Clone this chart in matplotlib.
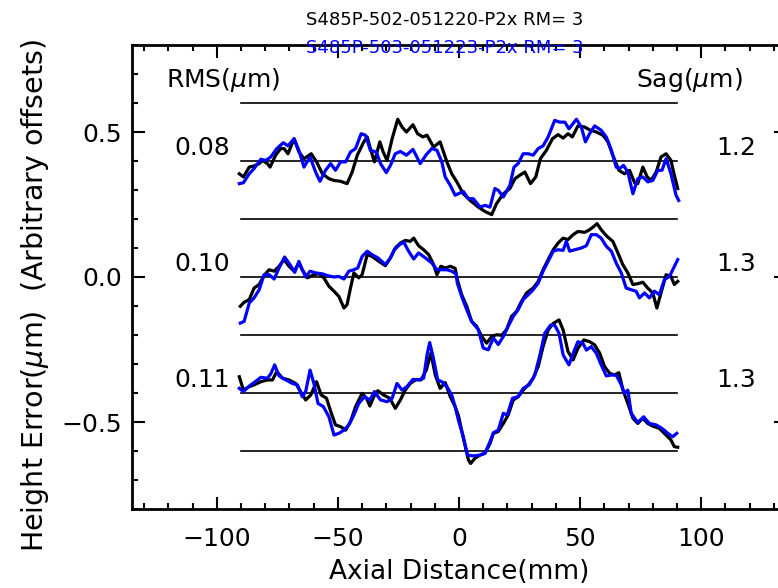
import numpy as np
import matplotlib
matplotlib.use("Agg")
import matplotlib.pyplot as plt
from matplotlib.ticker import MultipleLocator, FuncFormatter

# --- data (x in mm, y relative to each group's offset, um) ---
offsets = [0.4, 0.0, -0.4]
rms_labels = ["0.08", "0.10", "0.11"]
sag_labels = ["1.2", "1.3", "1.3"]
title_1 = "S485P-502-051220-P2x RM= 3"
title_2 = "S485P-503-051223-P2x RM= 3"

top_k_x = [-90.7, -89, -86.6, -84.6, -82.5, -81.1, -79.1, -78, -75.7, -73.6, -72.2, -70.6, -68.1, -66.1,
           -64, -61, -58.8, -56.4, -53.7, -51.6, -48.9, -46.2, -44.1, -42.0, -39.3, -37.9, -36.6, -34.9,
           -32.7, -31.3, -29.7, -27.6, -25.3, -23.5, -21.7, -19.0, -17.1, -14.9, -13.2, -10.5, -7.8, -5.0,
           -3.0, -0.9, 1.8, 4.6, 8.0, 10.7, 13.5, 15.5, 18.3, 21.0, 23.1, 25.1, 27.2, 29.5, 31.7, 33.6,
           36.1, 38.6, 40.9, 43.0, 45.0, 46.8, 49.1, 51.9, 54.2, 56.7, 59.4, 61.5, 63.5, 66.0, 68.3, 70.4,
           72.5, 73.8, 75.9, 77.7, 79.3, 81.4, 83.4, 85.5, 87.5, 88.9, 90.3]
top_k_y = [-0.044, -0.055, -0.021, -0.017, -0.009, 0.002, -0.009, -0.021, 0.02, 0.043, 0.043, 0.025, 0.077,
           0.031, 0.008, 0.025, -0.003, -0.044, -0.061, -0.067, -0.070, -0.078, -0.038, 0.020, 0.066, 0.083,
           0.043, -0.003, 0.066, 0.031, 0.002, 0.077, 0.144, 0.117, 0.100, 0.125, 0.094, 0.083, 0.089, 0.048,
           0.066, -0.003, -0.044, -0.072, -0.113, -0.136, -0.159, -0.174, -0.185, -0.147, -0.113, -0.095,
           -0.061, -0.049, -0.038, -0.078, -0.055, 0.008, 0.037, 0.077, 0.091, 0.079, 0.094, 0.083, 0.121,
           0.117, 0.106, 0.100, 0.089, 0.066, 0.020, -0.032, -0.044, -0.032, -0.075, -0.078, -0.021, -0.055,
           -0.067, -0.038, 0.014, 0.025, 0.002, -0.049, -0.095]

top_b_x = [-90.7, -89, -86.6, -84.6, -81.8, -79.8, -77.7, -75.2, -72.5, -70.6, -68.1, -66.1, -64, -61.5,
           -59.2, -57.4, -55.1, -53.0, -51.0, -48.9, -46.8, -44.8, -42.7, -40.4, -38.6, -36.6, -34.1, -32.4,
           -30.0, -28.3, -26.3, -24.2, -21.7, -19.0, -16.0, -13.5, -11.2, -9.1, -7.1, -5.7, -3.6, -1.6, 1.8,
           3.9, 5.9, 8.7, 10.7, 12.8, 14.8, 16.2, 18.3, 21.0, 22.7, 24.4, 26.5, 28.6, 30.6, 32.7, 34.7, 36.8,
           39.5, 41.6, 43.7, 45.4, 48.5, 50.5, 52.2, 53.9, 56.0, 58.7, 60.8, 62.9, 64.9, 66.3, 67.9, 69.7,
           71.8, 73.8, 75.9, 78.0, 80.0, 82.1, 83.8, 85.5, 87.5, 89.6, 90.7]
top_b_y = [-0.078, -0.075, -0.044, -0.026, 0.006, 0.002, 0.014, 0.043, 0.063, 0.052, 0.077, 0.037, -0.021,
           0.014, -0.038, -0.070, -0.032, -0.009, -0.032, -0.003, -0.003, 0.031, 0.043, 0.094, 0.089, 0.037,
           0.031, -0.009, -0.040, -0.015, 0.025, 0.033, 0.020, 0.040, -0.009, 0.022, 0.043, 0.037, -0.003,
           -0.055, -0.084, -0.118, -0.105, -0.130, -0.130, -0.159, -0.153, -0.159, -0.095, -0.101, -0.124,
           -0.084, -0.021, -0.009, 0.025, 0.025, 0.020, 0.043, 0.052, 0.083, 0.140, 0.134, 0.134, 0.111,
           0.144, 0.117, 0.066, 0.094, 0.121, 0.106, 0.083, 0.037, -0.021, -0.026, -0.015, -0.038, -0.113,
           -0.061, -0.055, -0.072, -0.067, -0.032, -0.032, 0.008, -0.044, -0.118, -0.136]

mid_k_x = [-90.3, -88.7, -86.6, -84.6, -82.5, -80.5, -78.4, -76.3, -74.3, -72.2, -70.2, -68.1, -66.1, -64.7,
           -62.6, -59.9, -57.8, -55.8, -53.7, -51.6, -49.6, -47.5, -46.2, -44.8, -43.4, -41.4, -40.0, -37.9,
           -35.9, -33.1, -30.4, -28.3, -26.3, -24.2, -22.2, -20.1, -18.7, -16.7, -14.6, -12.5, -10.5, -9.1,
           -7.5, -5.7, -3.6, -1.6, -0.7, 1.1, 3.2, 5.2, 7.3, 9.4, 11.4, 13.5, 15.5, 17.6, 19.6, 21.7, 23.8,
           25.8, 27.9, 30.6, 32.7, 34.7, 36.8, 38.9, 40.9, 43.0, 45.0, 47.1, 49.1, 51.9, 53.9, 55.3, 57.0,
           58.7, 61.1, 63.5, 65.6, 67.6, 69.7, 71.8, 73.8, 75.9, 77.9, 80.0, 81.7, 83.4, 85.5, 87.5, 88.9, 90.3]
mid_k_y = [-0.101, -0.087, -0.078, -0.038, -0.026, 0.005, 0.025, 0.020, 0.037, 0.060, 0.037, 0.020, 0.048,
           0.025, -0.003, 0.008, 0.011, -0.003, -0.032, -0.049, -0.067, -0.107, -0.095, -0.038, 0.014, -0.003,
           0.008, 0.077, 0.071, 0.054, 0.039, 0.066, 0.100, 0.117, 0.126, 0.123, 0.134, 0.108, 0.094, 0.077,
           0.043, 0.008, 0.037, 0.031, 0.037, 0.030, -0.009, -0.061, -0.101, -0.153, -0.170, -0.205, -0.228,
           -0.205, -0.199, -0.201, -0.182, -0.136, -0.118, -0.084, -0.055, -0.038, -0.015, 0.025, 0.060, 0.094,
           0.117, 0.134, 0.129, 0.146, 0.157, 0.154, 0.163, 0.172, 0.184, 0.163, 0.140, 0.123, 0.083, 0.043,
           0.014, -0.026, -0.023, -0.018, -0.038, -0.055, -0.107, -0.055, 0.008, 0.002, -0.026, -0.015]

mid_b_x = [-90.3, -88.7, -86.6, -84.6, -82.5, -80.5, -78.4, -76.3, -74.3, -72.0, -69.8, -67.8, -66.1, -64.7,
           -63.3, -61.5, -59.2, -56.4, -54.4, -51.6, -49.6, -47.5, -45.5, -43.4, -41.8, -40.0, -37.9, -35.9,
           -33.5, -30.4, -28.3, -26.7, -24.6, -22.8, -20.8, -18.7, -16.7, -13.9, -11.2, -9.1, -7.1, -5.0,
           -3.0, -1.2, -0.7, 1.1, 3.2, 5.2, 8.0, 10.0, 12.1, 14.2, 16.2, 18.3, 20.3, 22.4, 24.4, 26.5, 28.6,
           30.6, 32.7, 34.7, 36.8, 38.9, 40.9, 43.0, 44.3, 45.7, 47.8, 50.5, 52.6, 54.6, 56.7, 58.7, 60.8,
           62.9, 64.9, 67.0, 69.0, 71.1, 73.1, 74.5, 76.6, 78.6, 80.7, 82.7, 84.8, 86.9, 89.3, 90.3]
mid_b_y = [-0.159, -0.153, -0.090, -0.072, -0.044, 0.008, 0.008, -0.007, 0.031, 0.069, 0.043, 0.016, 0.054,
           0.025, 0.000, 0.020, 0.014, 0.011, 0.005, 0.000, 0.002, -0.007, 0.020, 0.025, 0.031, 0.071, 0.089,
           0.077, 0.066, 0.043, 0.066, 0.094, 0.111, 0.120, 0.089, 0.062, 0.083, 0.066, 0.048, 0.025, 0.025,
           0.025, 0.020, 0.010, -0.021, -0.067, -0.113, -0.153, -0.182, -0.245, -0.251, -0.210, -0.233, -0.205,
           -0.170, -0.136, -0.113, -0.078, -0.061, -0.044, -0.021, 0.020, 0.054, 0.089, 0.094, 0.092, 0.123,
           0.089, 0.094, 0.100, 0.108, 0.146, 0.146, 0.134, 0.106, 0.089, 0.048, 0.014, -0.038, -0.044,
           -0.049, -0.072, -0.055, -0.072, -0.049, -0.061, -0.009, 0.002, 0.043, 0.060]

bot_k_x = [-90.7, -89, -86.6, -84.6, -81.8, -79.1, -77.0, -75.2, -72.9, -70.2, -67.4, -65.4, -63.3, -61.2,
           -58.8, -56.9, -54.7, -52.7, -51.0, -48.9, -46.8, -44.8, -42.7, -40.0, -38.2, -36.8, -35.2, -33.5,
           -31.1, -28.6, -26.3, -24.2, -22.2, -20.1, -17.6, -15.7, -13.5, -11.6, -9.8, -7.8, -5.7, -3.6,
           -1.6, -0.2, 1.8, 3.9, 4.8, 6.6, 8.7, 10.7, 12.8, 14.2, 16.2, 18.3, 20.3, 22.4, 24.4, 26.5, 28.6,
           30.6, 32.7, 34.7, 36.8, 38.9, 41.3, 43.0, 45.0, 47.1, 49.1, 51.5, 53.9, 56.0, 58.1, 60.1, 62.2,
           64.2, 66.0, 67.7, 69.7, 71.8, 73.8, 75.9, 77.9, 80.0, 82.7, 85.5, 87.5, 88.9, 90.3]
bot_k_y = [0.056, 0.010, 0.022, 0.028, 0.039, 0.045, 0.045, 0.074, 0.051, 0.045, 0.033, 0.005, -0.024,
           -0.007, 0.039, -0.007, -0.018, -0.070, -0.110, -0.116, -0.128, -0.099, -0.047, -0.001, -0.018,
           -0.045, -0.013, 0.008, -0.007, -0.018, -0.053, -0.024, 0.010, 0.033, 0.047, 0.045, 0.079, 0.137,
           0.062, 0.016, 0.036, -0.013, -0.047, -0.079, -0.156, -0.231, -0.243, -0.225, -0.214, -0.208,
           -0.174, -0.139, -0.133, -0.105, -0.076, -0.024, -0.013, 0.010, 0.028, 0.051, 0.091, 0.160, 0.217,
           0.240, 0.252, 0.217, 0.143, 0.114, 0.154, 0.183, 0.177, 0.166, 0.137, 0.091, 0.068, 0.062, 0.070,
           0.010, -0.036, -0.087, -0.105, -0.087, -0.105, -0.114, -0.122, -0.145, -0.162, -0.185, -0.187]

bot_b_x = [-90.7, -89, -86.6, -84.6, -81.8, -79.1, -77.7, -76.1, -74.3, -71.5, -68.8, -66.7, -64.7, -63.3,
           -61.5, -59.9, -58.2, -56.0, -53.7, -51.6, -49.6, -47.5, -45.5, -43.4, -41.4, -39.0, -36.8, -34.9,
           -32.4, -29.7, -27.6, -25.6, -23.5, -21.5, -19.0, -16.7, -14.6, -13.2, -12.1, -10.7, -8.8, -7.1,
           -5.0, -3.0, -1.6, -0.2, 1.8, 3.5, 5.9, 8.7, 10.7, 12.8, 14.2, 16.2, 18.3, 19.9, 22.1, 24.4, 26.5,
           29.0, 31.3, 33.4, 35.4, 37.8, 39.5, 41.3, 43.0, 45.4, 47.4, 49.1, 51.2, 52.6, 54.6, 56.7, 58.7,
           60.8, 62.9, 64.9, 67.0, 68.3, 69.7, 71.1, 73.8, 76.2, 78.6, 81.4, 83.8, 86.2, 88.2, 89.9]
bot_b_y = [0.016, 0.005, 0.024, 0.036, 0.054, 0.051, 0.066, 0.097, 0.059, 0.045, 0.033, 0.028, -0.013,
           0.005, 0.079, 0.033, -0.036, -0.047, -0.082, -0.145, -0.139, -0.128, -0.110, -0.076, -0.036,
           -0.013, -0.024, 0.005, -0.024, -0.030, -0.018, 0.033, 0.010, 0.022, 0.047, 0.045, 0.051, 0.131,
           0.174, 0.125, 0.045, 0.039, 0.022, -0.007, -0.047, -0.095, -0.151, -0.214, -0.217, -0.214, -0.208,
           -0.168, -0.137, -0.128, -0.070, -0.076, -0.018, -0.013, 0.016, 0.028, 0.062, 0.131, 0.206, 0.234,
           0.234, 0.206, 0.131, 0.097, 0.143, 0.177, 0.171, 0.148, 0.160, 0.137, 0.097, 0.059, 0.062, 0.062,
           0.028, -0.001, 0.010, -0.070, -0.102, -0.082, -0.105, -0.110, -0.122, -0.139, -0.151, -0.139]

black_curves = [(top_k_x, top_k_y), (mid_k_x, mid_k_y), (bot_k_x, bot_k_y)]
blue_curves = [(top_b_x, top_b_y), (mid_b_x, mid_b_y), (bot_b_x, bot_b_y)]

W, H = 778, 588
fig = plt.figure(figsize=(W / 100, H / 100), dpi=100)
# right spine sits just past the right edge of the picture, as in the reference
ax = fig.add_axes([132 / W, 1 - 509 / H, (786 - 132) / W, (509 - 45) / H])
ax.set_xlim(-135, 135)
ax.set_ylim(-0.8, 0.8)

# reference lines: each group's offset and the +/-0.2 bands
line_levels = sorted(set([round(o + d, 2) for o in offsets for d in (-0.2, 0.0, 0.2)]))
for lvl in line_levels:
    ax.plot([-90, 90], [lvl, lvl], color="black", lw=1.2, zorder=1)

for off, (kx, ky), (bx, by) in zip(offsets, black_curves, blue_curves):
    ax.plot(kx, np.array(ky) + off, color="black", lw=2.3, zorder=2)
    ax.plot(bx, np.array(by) + off, color="#0000ff", lw=2.3, zorder=3)

fs = 18
for off, r, s in zip(offsets, rms_labels, sag_labels):
    ax.text(-94.5, off + 0.045, r, ha="right", va="center", fontsize=fs)
    ax.text(106, off + 0.045, s, ha="left", va="center", fontsize=fs)
ax.text(-121, 0.68, r"RMS($\mu$m)", ha="left", va="center", fontsize=fs)
ax.text(117, 0.68, r"Sag($\mu$m)", ha="right", va="center", fontsize=fs)

ax.xaxis.set_major_locator(MultipleLocator(50))
ax.xaxis.set_minor_locator(MultipleLocator(10))
ax.yaxis.set_major_locator(MultipleLocator(0.5))
ax.yaxis.set_minor_locator(MultipleLocator(0.1))
ax.yaxis.set_major_formatter(FuncFormatter(lambda v, p: ("%.1f" % v).replace("-", "\u2212")))
ax.tick_params(which="both", direction="in", top=True, right=True, width=1.5)
ax.tick_params(which="major", length=9)
ax.tick_params(which="minor", length=4.5)
ax.tick_params(axis="x", labelsize=18, pad=13)
ax.tick_params(axis="y", labelsize=18, pad=7)
for sp in ax.spines.values():
    sp.set_linewidth(2)

ax.set_xlabel("Axial Distance(mm)", fontsize=19, labelpad=6)
fig.text(35 / W, 1 - 295 / H, r"Height Error($\mu$m)  (Arbitrary offsets)", rotation=90,
         ha="center", va="center", fontsize=20.5)

fig.text(445 / W, 1 - 20 / H, title_1, ha="center", va="center", fontsize=13, color="black")
fig.text(445 / W, 1 - 48 / H, title_2, ha="center", va="center", fontsize=13, color="#0000ff")

fig.savefig("out.png", dpi=100)
